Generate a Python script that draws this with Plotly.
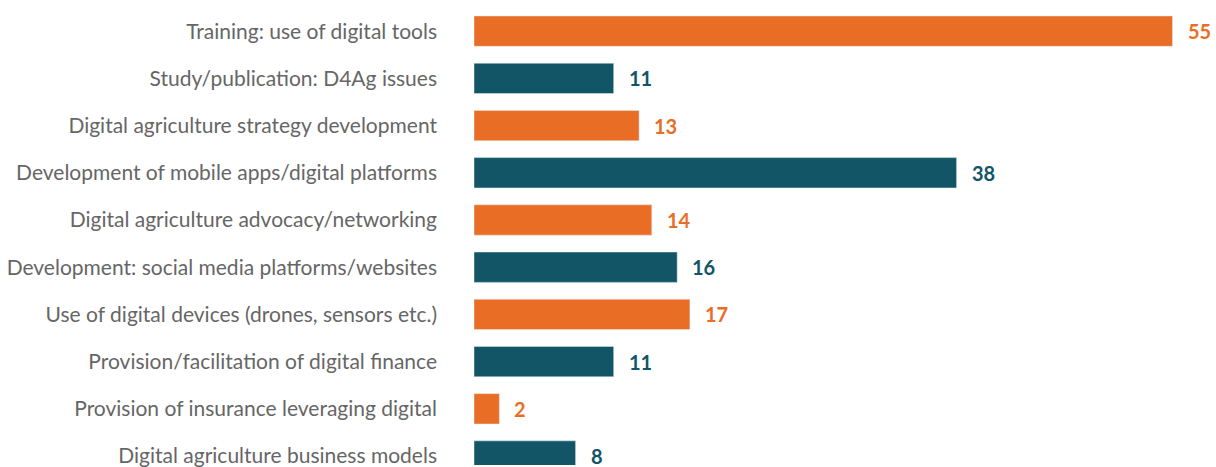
import plotly.graph_objects as go

categories = [
    "Training: use of digital tools",
    "Study/publication: D4Ag issues",
    "Digital agriculture strategy development",
    "Development of mobile apps/digital platforms",
    "Digital agriculture advocacy/networking",
    "Development: social media platforms/websites",
    "Use of digital devices (drones, sensors etc.)",
    "Provision/facilitation of digital finance",
    "Provision of insurance leveraging digital",
    "Digital agriculture business models",
]
values = [55, 11, 13, 38, 14, 16, 17, 11, 2, 8]

ORANGE = "#E96D25"
TEAL = "#115567"
colors = [ORANGE if i % 2 == 0 else TEAL for i in range(len(values))]

fig = go.Figure(
    go.Bar(
        x=values,
        y=list(range(len(values))),
        orientation="h",
        marker_color=colors,
        width=0.643,
        hoverinfo="x",
    )
)

for i, v in enumerate(values):
    fig.add_annotation(
        x=v,
        y=i,
        text=f"<b>{v}</b>",
        xanchor="left",
        xshift=13,
        showarrow=False,
        font=dict(size=20, color=colors[i], family="Lato"),
    )

fig.update_layout(
    width=1216,
    height=467,
    margin=dict(l=474, r=0, t=0, b=0),
    plot_bgcolor="white",
    paper_bgcolor="white",
    showlegend=False,
    font=dict(family="Lato", size=21, color="#666666"),
    xaxis=dict(
        range=[0, 742 / 12.7],
        visible=False,
        showgrid=False,
        zeroline=False,
    ),
    yaxis=dict(
        range=[9.19, -0.66],
        tickmode="array",
        tickvals=list(range(len(categories))),
        ticktext=categories,
        showgrid=False,
        zeroline=False,
        showline=False,
        ticks="",
        ticklabelstandoff=36,
        ticklabeloverflow="allow",
        tickfont=dict(size=21, color="#666666", family="Lato"),
    ),
)

# drop the default page margin so the chart fills the window
fig.write_html(
    "out.html",
    config={"displayModeBar": False},
    post_script="document.body.style.margin='0';",
)
